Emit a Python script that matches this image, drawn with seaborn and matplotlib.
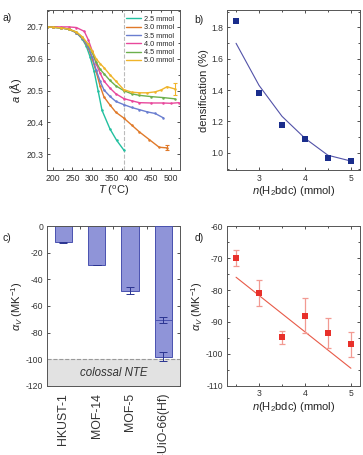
import numpy as np
import pandas as pd
import matplotlib
matplotlib.use('Agg')
import matplotlib.pyplot as plt
from matplotlib.ticker import MultipleLocator
import seaborn as sns

sns.set_theme(style='ticks')
plt.rcParams['font.family'] = ['Liberation Sans', 'DejaVu Sans']
plt.rcParams['mathtext.fontset'] = 'custom'
plt.rcParams['mathtext.rm'] = 'Liberation Sans'
plt.rcParams['mathtext.it'] = 'Liberation Sans:italic'
plt.rcParams['axes.unicode_minus'] = False

# panel a: lattice parameter vs temperature
temps = {
    '2.5 mmol': [185, 200, 220, 240, 260, 275, 285, 295, 305, 315, 325, 345, 362, 381],
    '3.0 mmol': [185, 200, 220, 240, 260, 275, 290, 300, 310, 320, 330, 345, 360, 380, 400, 420, 445, 470, 490],
    '3.5 mmol': [185, 200, 220, 240, 260, 275, 290, 300, 310, 320, 330, 345, 360, 380, 400, 420, 440, 460, 481],
    '4.0 mmol': [185, 200, 220, 240, 260, 280, 290, 300, 310, 320, 330, 345, 360, 380, 400, 420, 450, 480, 500, 520],
    '4.5 mmol': [185, 200, 220, 240, 260, 275, 290, 300, 310, 320, 330, 345, 360, 380, 400, 420, 450, 480, 510],
    '5.0 mmol': [185, 200, 220, 240, 260, 275, 290, 300, 310, 320, 330, 345, 360, 380, 400, 420, 440, 460, 475, 490, 510],
}
lattice = {
    '2.5 mmol': [20.700, 20.699, 20.697, 20.693, 20.682, 20.662, 20.640, 20.605, 20.560, 20.500, 20.438, 20.380, 20.344, 20.312],
    '3.0 mmol': [20.700, 20.699, 20.697, 20.693, 20.682, 20.664, 20.635, 20.600, 20.560, 20.515, 20.480, 20.455, 20.432, 20.414, 20.392, 20.370, 20.346, 20.322, 20.320],
    '3.5 mmol': [20.700, 20.699, 20.697, 20.693, 20.682, 20.664, 20.638, 20.605, 20.565, 20.530, 20.502, 20.482, 20.466, 20.456, 20.447, 20.440, 20.433, 20.428, 20.414],
    '4.0 mmol': [20.700, 20.700, 20.700, 20.700, 20.698, 20.686, 20.660, 20.625, 20.585, 20.555, 20.530, 20.508, 20.490, 20.475, 20.468, 20.462, 20.461, 20.461, 20.460, 20.462],
    '4.5 mmol': [20.700, 20.699, 20.697, 20.693, 20.684, 20.667, 20.645, 20.620, 20.590, 20.567, 20.553, 20.532, 20.515, 20.500, 20.490, 20.485, 20.481, 20.478, 20.474],
    '5.0 mmol': [20.700, 20.699, 20.697, 20.693, 20.684, 20.669, 20.645, 20.625, 20.600, 20.585, 20.572, 20.550, 20.530, 20.503, 20.495, 20.493, 20.493, 20.496, 20.502, 20.512, 20.505],
}
end_err = {'3.0 mmol': 0.008, '5.0 mmol': 0.018}
palette = {
    '2.5 mmol': '#22c0a0', '3.0 mmol': '#e07a2a', '3.5 mmol': '#6a7ed0',
    '4.0 mmol': '#e8489c', '4.5 mmol': '#6cb04c', '5.0 mmol': '#f0b42a',
}

# panel b: densification
n_bdc = [2.5, 3.0, 3.5, 4.0, 4.5, 5.0]
densification = [1.84, 1.38, 1.18, 1.09, 0.965, 0.95]
dens_fit = [1.698, 1.43, 1.233, 1.093, 0.985, 0.948]

# panel c: NTE comparison
frameworks = ['HKUST-1', 'MOF-14', 'MOF-5', 'd-UiO-66(Hf)']
alpha_mof = [-12, -29.2, -48.5, -98]
alpha_mof_err = [0.4, 0.3, 2.7, 3.7]
uio_ordered = -70.5
uio_ordered_err = 2.5

# panel d: alpha_V vs linker amount
alpha_v = [-70, -81, -94.8, -88, -93.5, -97]
alpha_v_err = [2.5, 4, 2, 5.5, 4.8, 4]
alpha_fit_x = [2.5, 5.0]
alpha_fit_y = [-76, -104.5]

fig = plt.figure(figsize=(3.63, 4.55), dpi=100)
ax_a = fig.add_axes([0.129, 0.626, 0.367, 0.352])
ax_b = fig.add_axes([0.625, 0.626, 0.367, 0.352])
ax_c = fig.add_axes([0.129, 0.152, 0.367, 0.351])
ax_d = fig.add_axes([0.625, 0.152, 0.367, 0.351])

spine_col = '#555555'
for ax in (ax_a, ax_b, ax_c, ax_d):
    ax.tick_params(direction='in', which='both', top=True, right=True,
                   labelsize=6.2, colors='#333333', length=2.5, width=0.6, pad=2.5)
    ax.tick_params(which='minor', length=1.5)
    for s in ax.spines.values():
        s.set_color(spine_col)
        s.set_linewidth(0.7)

# a
rows = []
for k in temps:
    for t, v in zip(temps[k], lattice[k]):
        rows.append((k, t, v))
df_a = pd.DataFrame(rows, columns=['sample', 'T', 'a'])
ax_a.axvline(380, color='#bbbbbb', ls='--', lw=0.8, zorder=0)
sns.lineplot(data=df_a, x='T', y='a', hue='sample', palette=palette, ax=ax_a,
             marker='o', markersize=1.8, markeredgewidth=0, lw=1.0, sort=False)
for k, e in end_err.items():
    ax_a.errorbar(temps[k][-1], lattice[k][-1], yerr=e, color=palette[k],
                  capsize=1.5, lw=0.8, capthick=0.8)
ax_a.set_xlim(185, 523)
ax_a.set_ylim(20.25, 20.753)
ax_a.set_xticks([200, 250, 300, 350, 400, 450, 500])
ax_a.xaxis.set_minor_locator(MultipleLocator(25))
ax_a.set_yticks([20.3, 20.4, 20.5, 20.6, 20.7])
ax_a.yaxis.set_minor_locator(MultipleLocator(0.05))
ax_a.set_xlabel(r'$T$ ($^{\rm o}$C)', fontsize=8, labelpad=1)
ax_a.set_ylabel(r'$a$ (Å)', fontsize=8, labelpad=2)
leg = ax_a.legend(frameon=False, fontsize=5.3, loc='upper right', handlelength=2.0,
                  labelspacing=0.15, borderaxespad=0.4, handletextpad=0.4)
for h in leg.get_lines():
    h.set_marker('')

# b
ax_b.plot(n_bdc, dens_fit, color='#5252a8', lw=0.8)
sns.scatterplot(x=n_bdc, y=densification, ax=ax_b, marker='s', s=18,
                color='#1a2d8c', edgecolor='none', zorder=3)
ax_b.set_xlim(2.3, 5.2)
ax_b.set_ylim(0.89, 1.91)
ax_b.set_xticks([3, 4, 5])
ax_b.xaxis.set_minor_locator(MultipleLocator(0.5))
ax_b.set_yticks([1.0, 1.2, 1.4, 1.6, 1.8])
ax_b.set_yticklabels(['1.0', '1.2', '1.4', '1.6', '1.8'])
ax_b.yaxis.set_minor_locator(MultipleLocator(0.1))
ax_b.set_xlabel(r'$n$(H$_2$bdc) (mmol)', fontsize=8, labelpad=1)
ax_b.set_ylabel('densification (%)', fontsize=8, labelpad=2)

# c
ax_c.axhspan(-120, -100, color='#e2e2e2', zorder=0, lw=0)
ax_c.axhline(-100, color='#999999', ls='--', lw=0.8, zorder=1)
df_c = pd.DataFrame({'framework': frameworks, 'alpha': alpha_mof})
sns.barplot(data=df_c, x='framework', y='alpha', ax=ax_c, color='#8f94d8',
            width=0.52, edgecolor='#4a52b0', linewidth=0.7, saturation=1, zorder=2)
ax_c.bar([3], [uio_ordered], width=0.52, fill=False, edgecolor='#4a52b0', lw=0.7, zorder=3)
ax_c.errorbar(range(4), alpha_mof, yerr=alpha_mof_err, fmt='none', ecolor='#2a3490',
              capsize=3, lw=0.7, capthick=0.7, zorder=4)
ax_c.errorbar([3], [uio_ordered], yerr=[uio_ordered_err], fmt='none', ecolor='#2a3490',
              capsize=3, lw=0.7, capthick=0.7, zorder=4)
ax_c.text(1.5, -110, 'colossal NTE', style='italic', fontsize=8.3, color='#333333',
          ha='center', va='center')
ax_c.set_xlim(-0.5, 3.5)
ax_c.set_ylim(-120, 0)
ax_c.set_yticks([0, -20, -40, -60, -80, -100, -120])
ax_c.set_xticks([0.5, 1.5, 2.5], minor=True)
ax_c.tick_params(axis='x', which='major', top=False, bottom=False)
ax_c.tick_params(axis='x', which='minor', top=True, bottom=False, length=2.5)
ax_c.tick_params(axis='x', labelsize=8.8, labelrotation=90, pad=5)
ax_c.set_xlabel('')
ax_c.set_ylabel(r'$\alpha_V$ (MK$^{-1}$)', fontsize=8, labelpad=1)

# d
ax_d.plot(alpha_fit_x, alpha_fit_y, color='#e85a48', lw=0.8)
ax_d.errorbar(n_bdc, alpha_v, yerr=alpha_v_err, fmt='none', ecolor='#f29a92',
              capsize=2.2, lw=0.9, capthick=0.9, zorder=2)
sns.scatterplot(x=n_bdc, y=alpha_v, ax=ax_d, marker='s', s=18,
                color='#e8302a', edgecolor='none', zorder=3)
ax_d.set_xlim(2.3, 5.2)
ax_d.set_ylim(-110, -60)
ax_d.set_xticks([3, 4, 5])
ax_d.xaxis.set_minor_locator(MultipleLocator(0.5))
ax_d.set_yticks([-60, -70, -80, -90, -100, -110])
ax_d.yaxis.set_minor_locator(MultipleLocator(5))
ax_d.set_xlabel(r'$n$(H$_2$bdc) (mmol)', fontsize=8, labelpad=1)
ax_d.set_ylabel(r'$\alpha_V$ (MK$^{-1}$)', fontsize=8, labelpad=1)

for lab, x, y in [('a)', 0.008, 0.972), ('b)', 0.535, 0.968), ('c)', 0.008, 0.487), ('d)', 0.535, 0.487)]:
    fig.text(x, y, lab, fontsize=7.5, color='#222222', va='top')

fig.savefig('out.png', dpi=100)
